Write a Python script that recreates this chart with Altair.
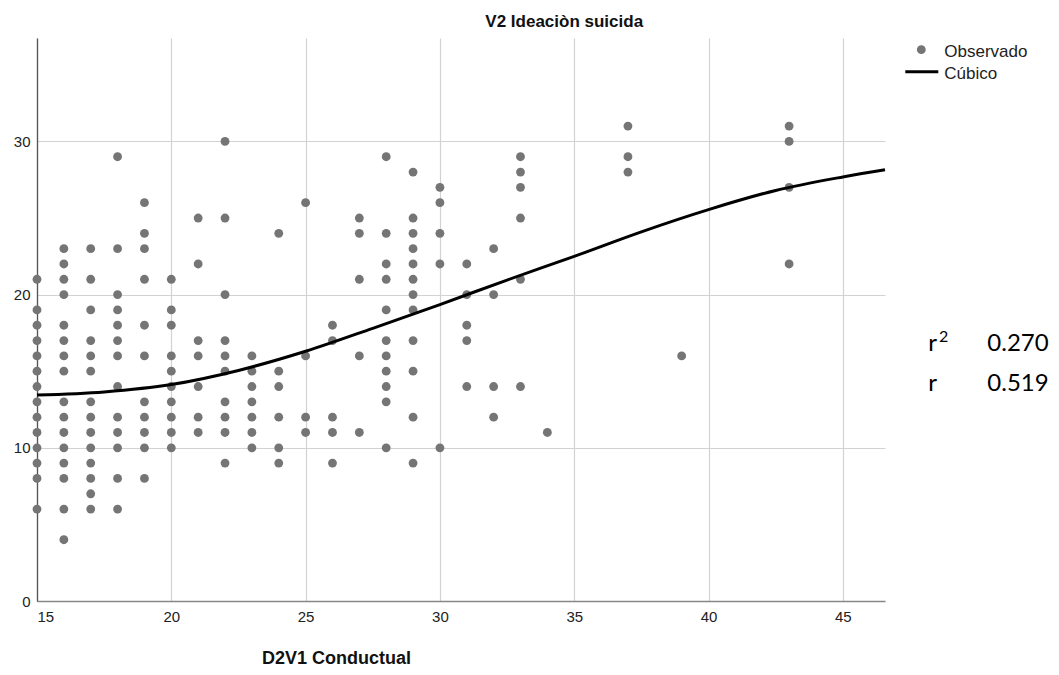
import altair as alt
import pandas as pd

# ---- data ----
x_values = [15, 16, 17, 18, 19, 20, 21, 22, 23, 24, 25, 26, 27, 28, 29, 30, 31, 32, 33, 34, 37, 39, 43]
y_by_x = [
    [21, 19, 18, 17, 16, 15, 14, 13, 12, 11, 10, 9, 8, 6],
    [23, 22, 21, 20, 18, 17, 16, 15, 13, 12, 11, 10, 9, 8, 6, 4],
    [23, 21, 19, 17, 16, 15, 13, 12, 11, 10, 9, 8, 7, 6],
    [29, 23, 20, 19, 18, 17, 16, 14, 12, 11, 10, 8, 6],
    [26, 24, 23, 21, 18, 16, 13, 12, 11, 10, 8],
    [21, 19, 18, 16, 15, 14, 13, 12, 11, 10],
    [25, 22, 17, 16, 14, 12, 11],
    [30, 25, 20, 17, 16, 15, 13, 12, 11, 9],
    [16, 15, 14, 13, 12, 11, 10],
    [24, 15, 14, 12, 10, 9],
    [26, 16, 12, 11],
    [18, 17, 12, 11, 9],
    [25, 24, 21, 16, 11],
    [29, 24, 22, 21, 19, 17, 16, 15, 14, 13, 10],
    [28, 25, 24, 23, 22, 21, 20, 19, 17, 15, 12, 9],
    [27, 26, 24, 22, 10],
    [22, 20, 18, 17, 14],
    [23, 20, 14, 12],
    [29, 28, 27, 25, 21, 14],
    [11],
    [31, 29, 28],
    [16],
    [31, 30, 27, 22],
]
# cubic fit line
curve_x = [15, 17.5, 20, 22.5, 25, 27.5, 30, 32.5, 35, 37.5, 40, 42.5, 45, 46.57]
curve_y = [13.44, 13.65, 14.13, 15.05, 16.3, 17.8, 19.35, 20.95, 22.5, 24.1, 25.55, 26.8, 27.68, 28.15]

x_ticks = [15, 20, 25, 30, 35, 40, 45]
y_ticks = [0, 10, 20, 30]
x_domain = [15, 46.57]
y_domain = [0, 36.75]
title_y = "V2 Ideaciòn suicida"
title_x = "D2V1 Conductual"
legend_labels = ["Observado", "Cúbico"]
stat_names = ["r", "r"]
stat_values = ["0.270", "0.519"]

rows = [{"x": x, "y": y} for x, ys in zip(x_values, y_by_x) for y in ys]
df = pd.DataFrame(rows)
cdf = pd.DataFrame({"x": curve_x, "y": curve_y})

W, H = 848, 563
PT_COLOR = "#757575"
FONT = "Liberation Sans"

xscale = alt.Scale(domain=x_domain, nice=False, zero=False)
yscale = alt.Scale(domain=y_domain, nice=False, zero=False)

x_axis = alt.Axis(values=x_ticks, title=None, grid=True, ticks=False, tickSize=0,
                  labelPadding=8, domainColor="#888888", domainWidth=1.3,
                  labelFontSize=15, labelFont=FONT, labelColor="#222222",
                  gridColor="#d2d2d2", gridWidth=1.2)
y_axis = alt.Axis(values=y_ticks, title=None, grid=True, ticks=False, tickSize=0,
                  labelPadding=7, domainColor="#555555", domainWidth=1.3,
                  labelFontSize=15, labelFont=FONT, labelColor="#222222",
                  gridColor="#d2d2d2", gridWidth=1.2)

points = alt.Chart(df).mark_circle(size=78, color=PT_COLOR, opacity=1).encode(
    x=alt.X("x:Q", scale=xscale, axis=x_axis),
    y=alt.Y("y:Q", scale=yscale, axis=y_axis),
)
curve = alt.Chart(cdf).mark_line(color="black", strokeWidth=3, interpolate="monotone").encode(
    x=alt.X("x:Q", scale=xscale),
    y=alt.Y("y:Q", scale=yscale),
)

ldf = pd.DataFrame({"label": legend_labels})
leg_dot = alt.Chart(ldf.iloc[[0]]).mark_circle(size=78, color=PT_COLOR, opacity=1).encode(
    x=alt.value(884.3), y=alt.value(11.7))
leg_line = alt.Chart(ldf.iloc[[1]]).mark_rule(color="black", strokeWidth=3).encode(
    x=alt.value(868.3), x2=alt.value(901.3), y=alt.value(33.7))
leg_t1 = alt.Chart(ldf.iloc[[0]]).mark_text(align="left", baseline="middle", fontSize=17,
                                            font=FONT, color="#222222").encode(
    x=alt.value(907.3), y=alt.value(13.7), text="label:N")
leg_t2 = alt.Chart(ldf.iloc[[1]]).mark_text(align="left", baseline="middle", fontSize=17,
                                            font=FONT, color="#222222").encode(
    x=alt.value(907.3), y=alt.value(35.7), text="label:N")

tdf = pd.DataFrame({"t": [title_y, title_x]})
t_top = alt.Chart(tdf.iloc[[0]]).mark_text(align="left", baseline="alphabetic", fontSize=17,
                                           fontWeight="bold", font=FONT, color="#111111").encode(
    x=alt.value(448.3), y=alt.value(-11.3), text="t:N")
t_bot = alt.Chart(tdf.iloc[[1]]).mark_text(align="left", baseline="middle", fontSize=18,
                                           fontWeight="bold", font=FONT, color="#111111").encode(
    x=alt.value(225), y=alt.value(H + 58), text="t:N")

sdf = pd.DataFrame({"name": stat_names, "val": stat_values, "yy": [313.4, 352.7]})
s_name = alt.Chart(sdf).mark_text(align="left", baseline="alphabetic", fontSize=24,
                                  font="Lato", color="black").encode(
    x=alt.value(891.3), y=alt.Y("yy:Q", scale=None), text="name:N")
s_val = alt.Chart(sdf).mark_text(align="left", baseline="alphabetic", fontSize=24,
                                 font="Lato", color="black").encode(
    x=alt.value(950.3), y=alt.Y("yy:Q", scale=None), text="val:N")
sup = alt.Chart(pd.DataFrame({"s": ["2"]})).mark_text(align="left", baseline="alphabetic",
                                                        fontSize=16, font="Lato", color="black").encode(
    x=alt.value(902), y=alt.value(303.5), text="s:N")

chart = alt.layer(points, curve, leg_dot, leg_line, leg_t1, leg_t2, t_top, t_bot,
                  s_name, s_val, sup).properties(
    width=W, height=H,
    padding={"left": 29, "top": 30, "right": 166, "bottom": 72},
    autosize=alt.AutoSizeParams(type="none"),
).configure_view(stroke=None)

chart.save("out.html", embed_options={"renderer": "svg", "actions": False})
